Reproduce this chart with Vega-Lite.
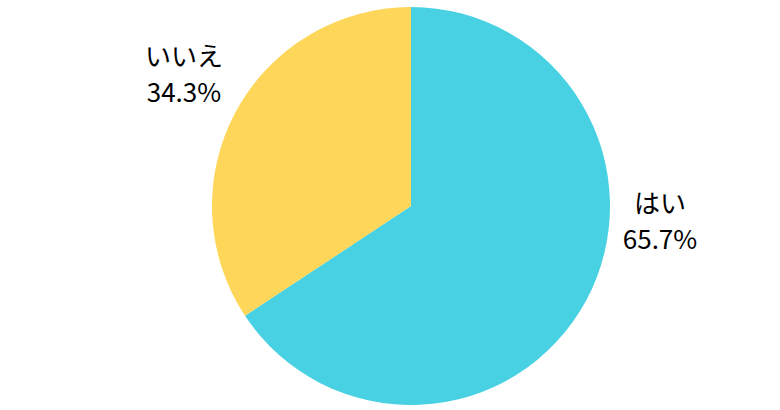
{
  "$schema": "https://vega.github.io/schema/vega-lite/v6.json",
  "width": 738,
  "height": 408,
  "autosize": "none",
  "padding": {"left": 42, "right": 0, "top": 2, "bottom": 0},
  "background": "white",
  "data": {
    "values": [
      {"answer": "はい", "value": 65.7},
      {"answer": "いいえ", "value": 34.3}
    ]
  },
  "transform": [
    {"calculate": "datum.answer + '\\n' + format(datum.value, '.1f') + '%'", "as": "label"}
  ],
  "encoding": {
    "theta": {"field": "value", "type": "quantitative", "stack": true},
    "order": {"field": "value", "type": "quantitative", "sort": "descending"}
  },
  "layer": [
    {
      "mark": {"type": "arc", "outerRadius": 199},
      "encoding": {
        "color": {
          "field": "answer",
          "type": "nominal",
          "scale": {"domain": ["はい", "いいえ"], "range": ["#48D1E2", "#FDD65A"]},
          "legend": null
        }
      }
    },
    {
      "mark": {"type": "text", "radius": 260, "dx": 2, "dy": -25, "fontSize": 26,
               "font": "Noto Sans CJK JP", "lineBreak": "\n", "lineHeight": 36,
               "align": "center", "baseline": "middle", "color": "#000000"},
      "encoding": {
        "text": {"condition": {"test": "datum.answer == 'いいえ'", "field": "label"}, "value": ""}
      }
    },
    {
      "mark": {"type": "text", "radius": 260, "dx": 20, "dy": -124, "fontSize": 26,
               "font": "Noto Sans CJK JP", "lineBreak": "\n", "lineHeight": 36,
               "align": "center", "baseline": "middle", "color": "#000000"},
      "encoding": {
        "text": {"condition": {"test": "datum.answer == 'はい'", "field": "label"}, "value": ""}
      }
    }
  ],
  "config": {"view": {"stroke": null}}
}
